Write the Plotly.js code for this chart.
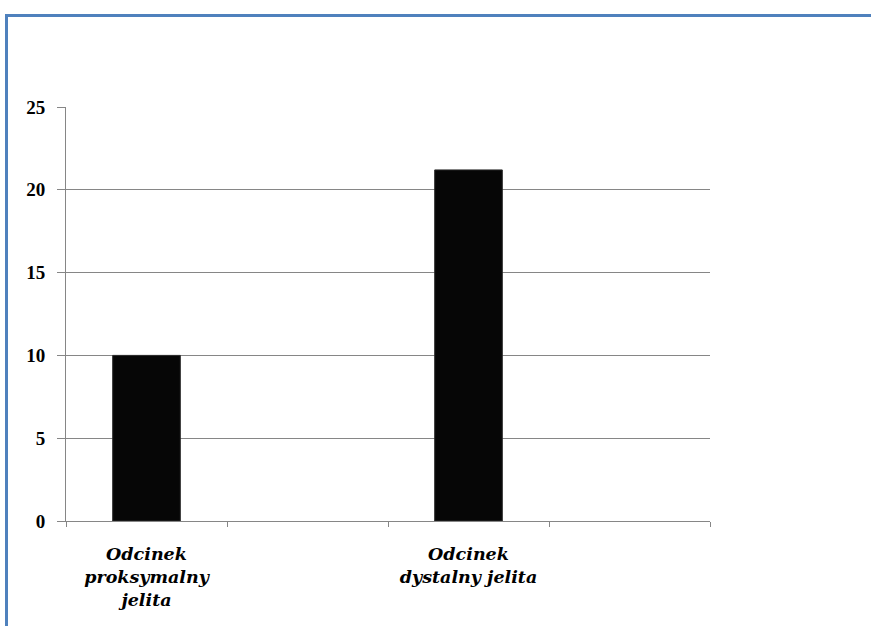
<!DOCTYPE html>
<html>
<head>
<meta charset="utf-8">
<script src="https://cdn.plot.ly/plotly-3.0.1.min.js"></script>
<style>
  html, body { margin: 0; padding: 0; background: #fff; }
  #wrap { position: relative; width: 871px; height: 626px; overflow: hidden; }
  #chart { position: absolute; left: 0; top: 0; width: 871px; height: 626px; }
  #frame { position: absolute; left: 5px; top: 14px; width: 880px; height: 700px;
           border-left: 3px solid #4f81bd; border-top: 3px solid #4f81bd; pointer-events: none; }
</style>
</head>
<body>
<div id="wrap">
  <div id="chart"></div>
  <div id="frame"></div>
</div>
<script>
const categories = ["Odcinek<br>proksymalny<br>jelita", " ", "Odcinek<br>dystalny jelita", "  "];
const values = [10, null, 21.2, null];
const yTicks = [0, 5, 10, 15, 20, 25];

const serif = "'Liberation Serif', 'Times New Roman', serif";

Plotly.newPlot("chart", [{
  type: "bar",
  x: categories,
  y: values,
  marker: { color: "#060606", line: { color: "#2a2a2a", width: 1 } },
  hoverinfo: "none"
}], {
  width: 871,
  height: 626,
  margin: { l: 66, r: 161, t: 107, b: 105 },
  paper_bgcolor: "#ffffff",
  plot_bgcolor: "#ffffff",
  showlegend: false,
  bargap: 0.58,
  xaxis: {
    type: "category",
    tickson: "boundaries",
    ticks: "outside",
    ticklen: 5,
    tickcolor: "#868686",
    showline: true,
    linecolor: "#868686",
    linewidth: 1,
    showgrid: false,
    ticklabelstandoff: 17,
    tickfont: { family: "DejaVu Serif", size: 17.5, color: "#000", weight: "bold", style: "italic" },
    fixedrange: true
  },
  yaxis: {
    range: [0, 25],
    tickvals: yTicks,
    ticktext: yTicks.map(String),
    ticks: "outside",
    ticklen: 8,
    tickcolor: "#868686",
    showline: true,
    linecolor: "#868686",
    linewidth: 1,
    showgrid: true,
    gridcolor: "#868686",
    gridwidth: 1,
    zeroline: false,
    ticklabelstandoff: 8,
    tickfont: { family: serif, size: 19, color: "#000", weight: "bold" },
    fixedrange: true
  }
}, { displayModeBar: false, staticPlot: true });
</script>
</body>
</html>
